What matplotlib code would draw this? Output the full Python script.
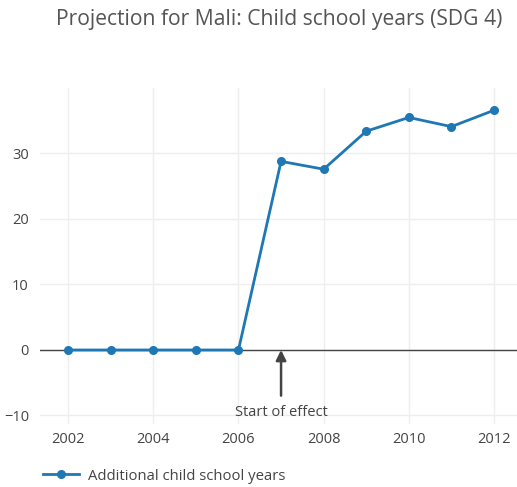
import matplotlib
matplotlib.use('Agg')
import matplotlib.pyplot as plt

# data
years = [2002, 2003, 2004, 2005, 2006, 2007, 2008, 2009, 2010, 2011, 2012]
school_years = [0, 0, 0, 0, 0, 28.8, 27.6, 33.4, 35.5, 34.1, 36.6]
effect_year = 2007

plt.rcParams['font.family'] = ['Open Sans', 'DejaVu Sans']

W, H = 517, 487
fig = plt.figure(figsize=(W / 100, H / 100), dpi=100)
ax = fig.add_axes([40 / W, 1 - 424 / H, (517 - 40) / W, (424 - 88) / H])

blue = '#1f77b4'
ax.plot(years, school_years, color=blue, lw=2, marker='o', ms=5.5,
        label='Additional child school years', zorder=3)

ax.set_xlim(2001.34, 2012.54)
ax.set_ylim(-11.3, 40)
ax.set_xticks([2002, 2004, 2006, 2008, 2010, 2012])
ax.set_yticks([-10, 0, 10, 20, 30])
ax.set_yticklabels(['\u221210', '0', '10', '20', '30'])
ax.grid(color='#eeeeee', lw=1)
ax.axhline(0, color='#444444', lw=1, zorder=2)
for s in ax.spines.values():
    s.set_visible(False)
ax.tick_params(length=0, labelsize=10.5, colors='#444444', pad=6)
ax.tick_params(axis='y', pad=8)

ax.annotate('Start of effect', xy=(effect_year, 0), xytext=(effect_year, -9.6),
            ha='center', va='center', fontsize=10.5, color='#444444',
            arrowprops=dict(arrowstyle='-|>', color='#444444', lw=1.8,
                            shrinkA=5, shrinkB=0, mutation_scale=15))

fig.text(279 / W, 1 - 20 / H, 'Projection for Mali: Child school years (SDG 4)',
         ha='center', va='center', fontsize=15.2, color='#555555')

fig.legend(loc='center left', bbox_to_anchor=(37 / W, 1 - 476 / H), frameon=False,
           fontsize=10.7, labelcolor='#444444', handlelength=2.4, handletextpad=0.6,
           borderaxespad=0)

fig.savefig('out.png', dpi=100)
